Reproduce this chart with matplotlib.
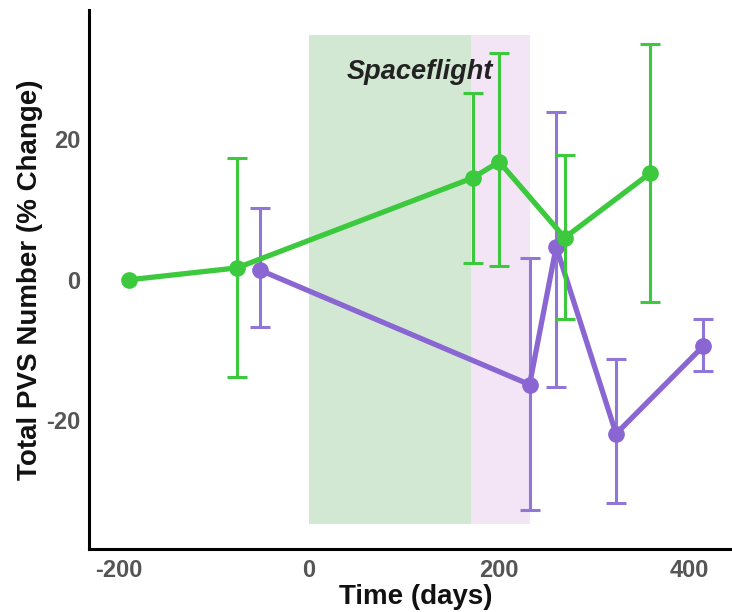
import matplotlib
matplotlib.use("Agg")
import matplotlib.pyplot as plt

plt.rcParams["font.family"] = ["Liberation Sans", "DejaVu Sans"]
plt.rcParams["axes.unicode_minus"] = False

# Data (time in days, % change)
green_days = [-190, -76, 172, 200, 269, 359]
green_pct = [0.0, 1.7, 14.5, 16.8, 6.0, 15.2]
green_hi = [0.0, 17.4, 26.6, 32.3, 17.8, 33.5]
green_lo = [0.0, -13.8, 2.4, 1.9, -5.6, -3.1]

purple_days = [-52, 232, 260, 323, 415]
purple_pct = [1.4, -14.9, 4.7, -21.9, -9.4]
purple_hi = [10.2, 3.1, 23.9, -11.2, -5.6]
purple_lo = [-6.7, -32.7, -15.2, -31.7, -13.0]

# Spaceflight windows
flight_start = 0
flight_end_green = 170
flight_end_purple = 232

green = "#3dc93d"
purple = "#8a66d3"

fig = plt.figure(figsize=(7.32, 6.12), dpi=100)
ax = fig.add_axes([89 / 732, 1 - 549 / 612, (732 - 89) / 732, (549 - 10) / 612])

# shaded spaceflight periods
ax.fill_between([flight_end_green, flight_end_purple], -34.8, 34.9, color="#f3e4f6", lw=0, zorder=0)
ax.fill_between([flight_start, flight_end_green], -34.8, 34.9, color="#d2e8d3", lw=0, zorder=0)
ax.text(117, 29.6, "Spaceflight", fontsize=19.5, fontweight="bold", fontstyle="italic",
        color="#222222", ha="center", va="center", zorder=1)

# purple series
p_err = [[p - l for p, l in zip(purple_pct, purple_lo)],
         [h - p for p, h in zip(purple_pct, purple_hi)]]
ax.errorbar(purple_days, purple_pct, yerr=p_err, color=purple, lw=3.8, marker="o", ms=11,
            elinewidth=2.2, capsize=7, capthick=2.2, ecolor="#9076d6", zorder=3)

# green series (no error bar on first point)
g_err = [[p - l for p, l in zip(green_pct, green_lo)],
         [h - p for p, h in zip(green_pct, green_hi)]]
ax.plot(green_days, green_pct, color=green, lw=3.8, marker="o", ms=11, zorder=5)
ax.errorbar(green_days[1:], green_pct[1:], yerr=[g_err[0][1:], g_err[1][1:]], fmt="none",
            ecolor=green, elinewidth=2.2, capsize=7, capthick=2.2, zorder=4)

ax.set_xlim(-231.6, 445)
ax.set_ylim(-38.3, 38.4)
ax.set_xticks([-200, 0, 200, 400])
ax.set_yticks([-20, 0, 20])
ax.tick_params(length=0, labelsize=17, labelcolor="#555555")
ax.tick_params(axis="x", pad=7)
ax.tick_params(axis="y", pad=6)
for lab in ax.get_xticklabels() + ax.get_yticklabels():
    lab.set_fontweight("bold")

for s in ["top", "right"]:
    ax.spines[s].set_visible(False)
for s in ["left", "bottom"]:
    ax.spines[s].set_linewidth(2.2)
    ax.spines[s].set_color("black")

fig.text(30 / 732, 1 - 280 / 612, "Total PVS Number (% Change)", rotation=90,
         fontsize=20, fontweight="bold", ha="center", va="center", color="#111111")
fig.text(416 / 732, 1 - 597 / 612, "Time (days)", fontsize=20, fontweight="bold",
         ha="center", va="center", color="#111111")

fig.savefig("out.png", dpi=100)
